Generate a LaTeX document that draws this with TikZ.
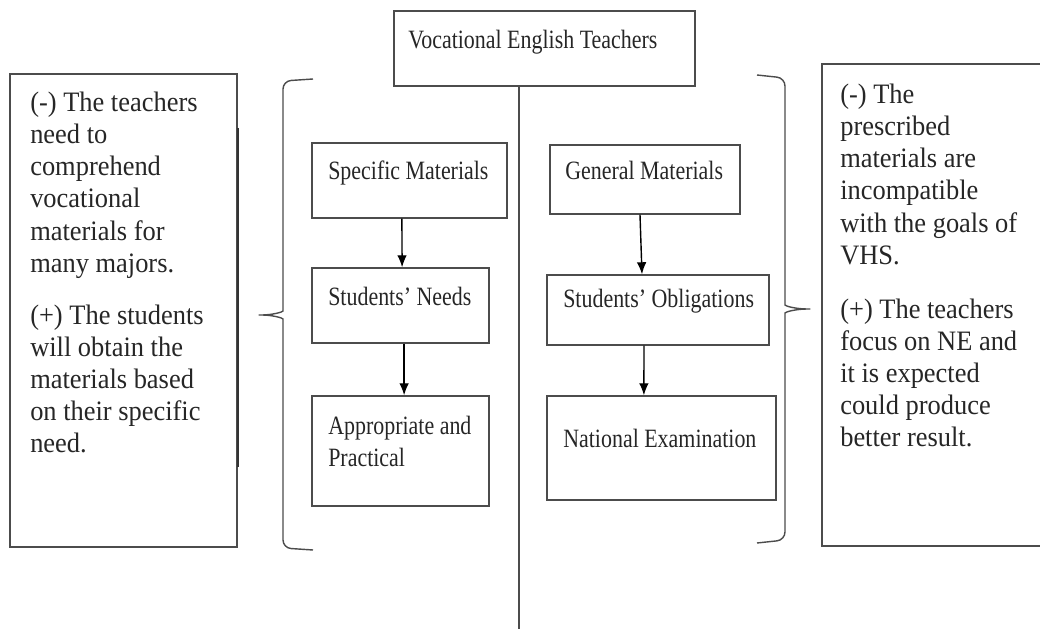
\documentclass[tikz,border=0pt]{standalone}
\usepackage{fontspec}
\setmainfont{Liberation Serif}
\newfontfamily\boxfont[FakeStretch=0.83,Ligatures=TeX]{Liberation Serif}
\newfontfamily\sidefont[FakeStretch=0.94,Ligatures=TeX]{Liberation Serif}
\usetikzlibrary{positioning}
\usetikzlibrary{arrows.meta}
\tikzstyle{box}=[rectangle,draw=black!70,line width=1pt,inner sep=0pt]
\tikzstyle{boxtext}=[anchor=base west,inner sep=0pt,text=black!85,font=\boxfont\fontsize{18.8}{22.8}\selectfont]
\tikzstyle{sidetext}=[anchor=north west,inner sep=0pt,align=left,text=black!85,font=\sidefont\fontsize{20}{22.8}\selectfont]
\tikzstyle{edge}=[draw,line width=1pt,-{Latex[length=0.3cm,width=0.24cm]}]
\tikzstyle{bracket}=[draw=black!70,line width=1pt,rounded corners=0.2cm]

\begin{document}
\begin{tikzpicture}[x=0.025cm,y=-0.025cm]
  \clip (0,0) rectangle (1040,629);

    % First we draw the boxes of the two columns
    \foreach \pos/\name/\w/\h in {{(544.5,48.5)/top/7.525/1.875}, {(409.5,180.5)/spec/4.875/1.875}, {(400.5,305.5)/needs/4.425/1.875}, {(400.5,451)/appr/4.425/2.75}, {(645,179.5)/gen/4.75/1.725}, {(658,310)/oblig/5.55/1.75}, {(661.5,448)/natexam/5.725/2.6}}
        \node[box,minimum width=\w cm,minimum height=\h cm] (\name) at \pos {};

    % texts of the boxes
    \foreach \pos/\name/\label in {{(408,49)/ttop/Vocational English Teachers}, {(328,180)/tspec/Specific Materials}, {(565,180)/tgen/General Materials}, {(328,306)/tneeds/Students' Needs}, {(563,308)/toblig/Students' Obligations}, {(563,447)/tnatexam/National Examination}}
        \node[boxtext] (\name) at \pos {\label};
    \node[boxtext,anchor=north west,align=left] (tappr) at (328,416) {Appropriate and\\Practical};

    % the dividing line
    \coordinate (foot) at (519,629);
    \draw[draw=black!70,line width=1pt] (top.south -| foot) -- (foot);

    % Connect boxes with arrows
    \path[edge] ([xshift=-0.19cm]spec.south) -- ([xshift=0.04cm]needs.north);
    \path[edge] ([xshift=0.09cm]needs.south) -- ([xshift=0.09cm]appr.north);
    \path[edge] ([xshift=-0.125cm]gen.south) -- ([xshift=-0.4cm]oblig.north);
    \path[edge] ([xshift=-0.35cm]oblig.south) -- ([xshift=-0.44cm]natexam.north);

    % the side boxes
    \node[box,minimum width=5.675cm,minimum height=11.825cm] (specview) at (123.5,310.5) {};
    \node[box,minimum width=5.7cm,minimum height=12.05cm] (genview) at (936,305) {};
    \draw[black!80,line width=1.6pt] (238,128) -- (238,467);

    \node[sidetext] (specnote) at (30,92) {(-) The teachers\\need to\\comprehend\\vocational\\materials for\\many majors.\\[0.5cm](+) The students\\will obtain the\\materials based\\on their specific\\need.};
    \node[sidetext] (gennote) at (840,84) {(-) The\\prescribed\\materials are\\incompatible\\with the goals of\\VHS.\\[0.55cm](+) The teachers\\focus on NE and\\it is expected\\could produce\\better result.};

    % the brackets
    \draw[bracket] (313,79) -- (283,81) -- (283,303) .. controls (283,312) and (272,315) .. (254,315) .. controls (272,315) and (283,318) .. (283,327) -- (283,548) -- (313,550);
    \draw[bracket] (757,75) -- (785,78) -- (785,297) .. controls (785,306) and (796,309) .. (815,309) .. controls (796,309) and (785,312) .. (785,321) -- (785,540) -- (757,543);

\end{tikzpicture}
\end{document}
